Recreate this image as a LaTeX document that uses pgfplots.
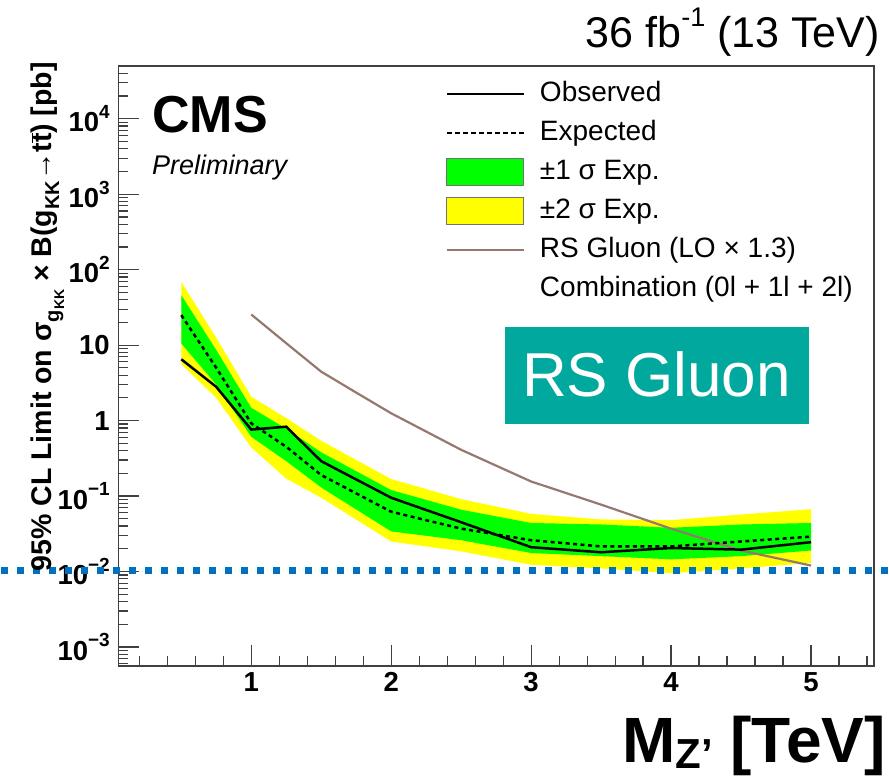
\documentclass[border=0pt]{standalone}
\usepackage{pgfplots}
\pgfplotsset{compat=1.18}
\usepackage{pgfplotstable}
\usepgfplotslibrary{fillbetween}
\usepackage{fontspec}
\setmainfont{Liberation Sans}
\definecolor{rsbrown}{RGB}{150,120,110}
\definecolor{tealbox}{RGB}{0,168,157}
\definecolor{dotblue}{RGB}{0,114,189}
\definecolor{bandgreen}{RGB}{0,255,0}
\definecolor{bandyellow}{RGB}{255,255,0}
\newcommand\sups[1]{\raisebox{0.48em}{\fontsize{19}{19}\selectfont #1}}

\pgfplotstableread{
x obs exp p1 m1 p2 m2
0.5 6.5 25 46 10.5 69 5.6
0.75 2.8 5.0 8.6 3.0 12.5 2.0
1.0 0.76 0.92 1.48 0.61 2.07 0.44
1.25 0.83 0.45 0.78 0.29 1.08 0.17
1.5 0.29 0.19 0.38 0.13 0.54 0.095
2.0 0.095 0.062 0.12 0.034 0.168 0.025
2.5 0.045 0.037 0.066 0.026 0.091 0.0185
3.0 0.021 0.026 0.044 0.0176 0.058 0.0123
3.5 0.018 0.0215 0.042 0.016 0.049 0.011
4.0 0.0205 0.0215 0.038 0.0145 0.048 0.0095
4.5 0.0195 0.025 0.042 0.016 0.057 0.011
5.0 0.0245 0.029 0.044 0.019 0.067 0.013
}\limitstab

\pgfplotstableread{
x th
1.0 25.5
1.25 10.6
1.5 4.45
1.75 2.35
2.0 1.25
2.5 0.41
3.0 0.156
3.5 0.077
4.0 0.037
4.5 0.019
5.0 0.012
}\theorytab

\pgfplotsset{
  linelegend/.style={legend image code/.code={\draw[##1] (0pt,0pt) -- (77pt,0pt);}},
  boxlegend/.style={legend image code/.code={\draw[##1] (0pt,-13.5pt) rectangle (77pt,13.5pt);}},
}

\begin{document}
\begin{tikzpicture}
\begin{axis}[
  scale only axis, width=755.7pt, height=600pt,
  at={(0pt,0pt)}, anchor=south west,
  ymode=log, xmin=0.05, xmax=5.45, ymin=5.6e-4, ymax=5e4,
  axis line style={line width=1.5pt, black!75},
  tick align=inside, xtick pos=bottom, ytick pos=left,
  xtick={1,2,3,4,5}, xticklabels={1,2,3,4,5},
  minor xtick={0.2,0.4,0.6,0.8,1.2,1.4,1.6,1.8,2.2,2.4,2.6,2.8,3.2,3.4,3.6,3.8,4.2,4.4,4.6,4.8,5.2,5.4},
  ytick={1e-3,1e-2,1e-1,1,10,100,1000,10000},
  yticklabels={10\sups{−3},10\sups{−2},10\sups{−1},1,10,10\sups{2},10\sups{3},10\sups{4}},
  minor ytick={6e-4,7e-4,8e-4,9e-4,2e-3,3e-3,4e-3,5e-3,6e-3,7e-3,8e-3,9e-3,2e-2,3e-2,4e-2,5e-2,6e-2,7e-2,8e-2,9e-2,0.2,0.3,0.4,0.5,0.6,0.7,0.8,0.9,2,3,4,5,6,7,8,9,20,30,40,50,60,70,80,90,200,300,400,500,600,700,800,900,2000,3000,4000,5000,6000,7000,8000,9000,20000,30000,40000},
  major tick length=21pt, minor tick length=10pt,
  every tick/.style={line width=1.2pt, black!75},
  ticklabel style={font=\fontsize{27.5}{27.5}\selectfont\bfseries},
  yticklabel style={xshift=-5pt},
  xticklabel style={yshift=-3pt},
  clip=false,
  legend style={at={(0.4336,0.978)}, anchor=north west, draw=none, fill=none,
    inner sep=0pt, outer sep=0pt,
    font=\fontsize{28}{28}\selectfont,
    row sep=9pt,
    nodes={inner sep=0pt, text height=22pt, text depth=8pt},
    /tikz/every odd column/.append style={column sep=15pt}},
  legend cell align=left,
]
\addlegendimage{linelegend, black, line width=2pt}
\addlegendentry{Observed}
\addlegendimage{linelegend, black, line width=1.5pt, dash pattern=on 5pt off 3pt}
\addlegendentry{Expected}
\addlegendimage{boxlegend, fill=bandgreen, draw=black!55, line width=1pt}
\addlegendentry{±1 σ Exp.}
\addlegendimage{boxlegend, fill=bandyellow, draw=black!55, line width=1pt}
\addlegendentry{±2 σ Exp.}
\addlegendimage{linelegend, rsbrown, line width=2pt}
\addlegendentry{RS Gluon (LO × 1.3)}
\addlegendimage{empty legend}
\addlegendentry{Combination (0l + 1l + 2l)}

\addplot[name path=p2, draw=none, forget plot] table[x=x,y=p2]{\limitstab};
\addplot[name path=m2, draw=none, forget plot] table[x=x,y=m2]{\limitstab};
\addplot[bandyellow, forget plot] fill between[of=p2 and m2];
\addplot[name path=p1, draw=none, forget plot] table[x=x,y=p1]{\limitstab};
\addplot[name path=m1, draw=none, forget plot] table[x=x,y=m1]{\limitstab};
\addplot[bandgreen, forget plot] fill between[of=p1 and m1];
\addplot[rsbrown, line width=2.2pt, forget plot] table[x=x,y=th]{\theorytab};
\addplot[black, line width=2.5pt, dash pattern=on 4pt off 3.5pt, forget plot] table[x=x,y=exp]{\limitstab};
\addplot[black, line width=2.5pt, forget plot] table[x=x,y=obs]{\limitstab};
\addplot[dotblue, line width=7pt, dash pattern=on 7pt off 9pt, forget plot] coordinates {(-0.79,0.0104) (5.56,0.0104)};
\end{axis}
\node[anchor=base west, inner sep=0pt] at (33.7pt,533pt) {\fontsize{52}{52}\selectfont\bfseries CMS};
\node[anchor=base west, inner sep=0pt] at (33.7pt,491pt) {\fontsize{27}{27}\selectfont\itshape Preliminary};
\node[anchor=base east, inner sep=0pt] at (761.7pt,618pt) {\fontsize{43}{43}\selectfont 36 fb\raisebox{0.5em}{\fontsize{27}{27}\selectfont -1} (13 TeV)};
\fill[tealbox] (386.7pt,242pt) rectangle (690.7pt,339pt);
\node[anchor=base, inner sep=0pt, text=white] at (538.2pt,269pt) {\fontsize{62}{62}\selectfont RS Gluon};
\node[anchor=base east, inner sep=0pt] at (767.7pt,-96pt) {\fontsize{64}{64}\selectfont\bfseries M\raisebox{-0.1em}{\fontsize{42}{42}\selectfont Z’} [TeV]};
\node[rotate=90, anchor=base east, inner sep=0pt] at (-66.3pt,604pt) {\fontsize{28.5}{28.5}\selectfont\bfseries 95\% CL Limit on σ\raisebox{-0.25em}{\fontsize{20}{20}\selectfont g\raisebox{-0.25em}{\fontsize{14}{14}\selectfont KK}} × B(g\raisebox{-0.25em}{\fontsize{20}{20}\selectfont KK}→t$\overline{\hbox{t}}$) [pb]};
\pgfresetboundingbox
\path (-118.3pt,-113pt) rectangle (770.7pt,666pt);
\end{tikzpicture}
\end{document}
